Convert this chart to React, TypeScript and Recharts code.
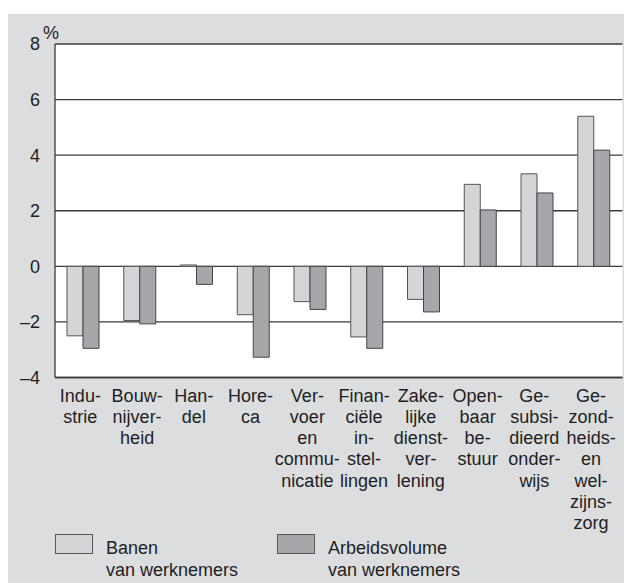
import React from 'react';
import { BarChart, Bar, XAxis, YAxis, CartesianGrid } from 'recharts';

const categories = [
  'Indu-|strie',
  'Bouw-|nijver-|heid',
  'Han-|del',
  'Hore-|ca',
  'Ver-|voer|en|commu-|nicatie',
  'Finan-|ciële|in-|stel-|lingen',
  'Zake-|lijke|dienst-|ver-|lening',
  'Open-|baar|be-|stuur',
  'Ge-|subsi-|dieerd|onder-|wijs',
  'Ge-|zond-|heids-|en|wel-|zijns-|zorg',
];
const banen = [-2.5, -1.95, 0.05, -1.74, -1.27, -2.54, -1.19, 2.95, 3.33, 5.4];
const arbeidsvolume = [-2.95, -2.07, -0.65, -3.27, -1.55, -2.95, -1.64, 2.03, 2.64, 4.18];
const yTicks = [-4, -2, 0, 2, 4, 6, 8];
const seriesLabels = ['Banen|van werknemers', 'Arbeidsvolume|van werknemers'];
const unitLabel = '%';

const data = categories.map((c, i) => ({ cat: c, banen: banen[i], arbeid: arbeidsvolume[i] }));

const FONT = '"Liberation Sans", Arial, Helvetica, sans-serif';
const FS = 18;
const LIGHT = '#d4d5d7';
const DARK = '#a6a7aa';
const LINE = '#3a3a3a';
const TEXT = '#1e1e1e';

const CatTick = (props: any) => {
  const { x, y, payload } = props;
  const lines = String(payload.value).split('|');
  const cx = x - 3;
  return (
    <text x={cx} y={y} textAnchor="middle" fontSize={FS} fontFamily={FONT} fill={TEXT}>
      {lines.map((l, i) => (
        <tspan key={i} x={cx} dy={i === 0 ? 24 : 21.3}>{l}</tspan>
      ))}
    </text>
  );
};

const fmt = (v: number) => (v < 0 ? '\u2013' + Math.abs(v) : String(v));

const LegendItem = ({ color, label, left }: { color: string; label: string; left: number }) => {
  const [a, b] = label.split('|');
  return (
    <div style={{ position: 'absolute', left, top: 534, height: 50 }}>
      <div style={{ position: 'absolute', left: 0, top: 0, width: 38, height: 20, background: color, border: '1px solid #555', boxSizing: 'border-box' }} />
      <div style={{ position: 'absolute', left: 51, top: 4, fontFamily: FONT, fontSize: FS, lineHeight: '21.5px', color: TEXT, whiteSpace: 'nowrap' }}>
        {a}<br />{b}
      </div>
    </div>
  );
};

export default function App() {
  return (
    <div style={{ position: 'absolute', left: 0, top: 0, width: 624, height: 583, background: '#fff', overflow: 'hidden' }}>
      <div style={{ position: 'absolute', left: 8, top: 14, width: 616, height: 569, background: '#dcdddf' }} />
      <div style={{ position: 'absolute', left: 0, top: 0 }}>
        <BarChart width={624} height={583} data={data} margin={{ top: 44, right: 1.5, left: 8, bottom: 45.5 }} barSize={16} barGap={0}>
          <CartesianGrid vertical={false} stroke={LINE} fill="#ffffff" strokeWidth={1.3} />
          <XAxis dataKey="cat" interval={0} tick={<CatTick />} tickLine={false} tickSize={0} tickMargin={0} height={160} axisLine={{ stroke: LINE, strokeWidth: 1.3 }} />
          <YAxis domain={[-4, 8]} ticks={yTicks} width={47} tickLine={false} tickSize={0} tickMargin={15} tickFormatter={fmt}
            tick={{ fontSize: FS, fontFamily: FONT, fill: TEXT }} axisLine={{ stroke: LINE, strokeWidth: 1.3 }} />
          <YAxis yAxisId="r" orientation="right" domain={[-4, 8]} ticks={yTicks} width={0} tick={false} tickLine={false} axisLine={{ stroke: LINE, strokeWidth: 1.3 }} />
          <Bar dataKey="banen" fill={LIGHT} stroke="#555" strokeWidth={1} isAnimationActive={false} />
          <Bar dataKey="arbeid" fill={DARK} stroke="#444" strokeWidth={1} isAnimationActive={false} />
        </BarChart>
      </div>
      <div style={{ position: 'absolute', left: 43, top: 23, fontFamily: FONT, fontSize: FS, color: TEXT }}>{unitLabel}</div>
      <LegendItem color={LIGHT} label={seriesLabels[0]} left={55} />
      <LegendItem color={DARK} label={seriesLabels[1]} left={277} />
    </div>
  );
}
